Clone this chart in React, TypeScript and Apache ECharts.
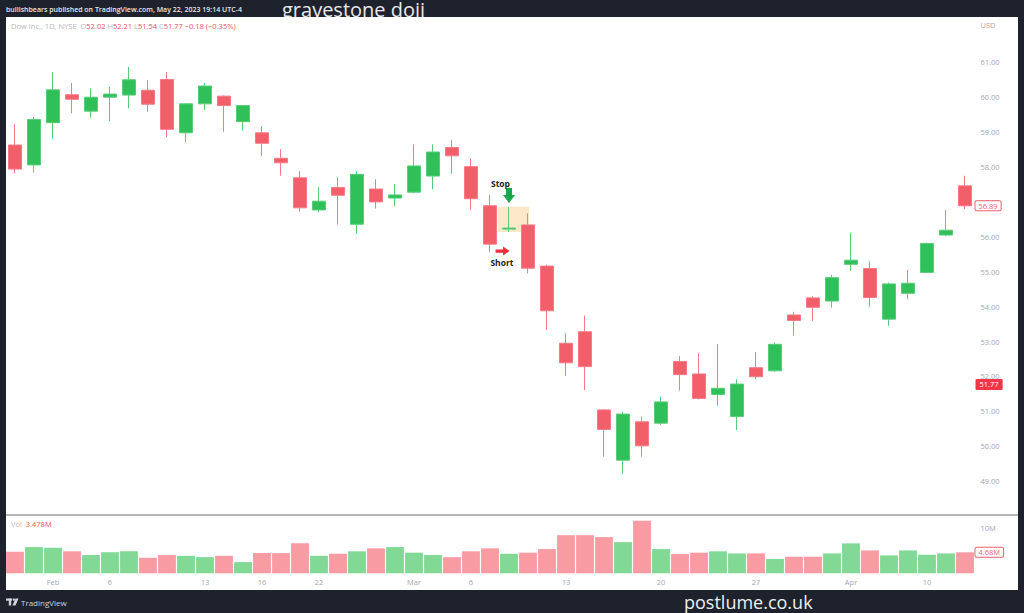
import React, { useEffect, useRef } from "react";
import * as echarts from "echarts";

const dates = [
  "2023-01-30", "2023-01-31", "2023-02-01", "2023-02-02", "2023-02-03", "2023-02-06", "2023-02-07",
  "2023-02-08", "2023-02-09", "2023-02-10", "2023-02-13", "2023-02-14", "2023-02-15", "2023-02-16",
  "2023-02-17", "2023-02-21", "2023-02-22", "2023-02-23", "2023-02-24", "2023-02-27", "2023-02-28",
  "2023-03-01", "2023-03-02", "2023-03-03", "2023-03-06", "2023-03-07", "2023-03-08", "2023-03-09",
  "2023-03-10", "2023-03-13", "2023-03-14", "2023-03-15", "2023-03-16", "2023-03-17", "2023-03-20",
  "2023-03-21", "2023-03-22", "2023-03-23", "2023-03-24", "2023-03-27", "2023-03-28", "2023-03-29",
  "2023-03-30", "2023-03-31", "2023-04-03", "2023-04-04", "2023-04-05", "2023-04-06", "2023-04-10",
  "2023-04-11", "2023-04-12",
];

const opens = [
  58.63, 58.06, 59.27, 60.07, 59.6, 60.0, 60.06, 60.2, 60.51, 58.98,
  59.81, 60.03, 59.3, 58.98, 58.25, 57.69, 56.77, 57.41, 56.36, 57.37,
  57.11, 57.28, 57.74, 58.56, 58.01, 56.89, 56.22, 56.34, 55.16, 52.95,
  53.28, 51.04, 49.6, 50.7, 50.66, 52.43, 52.07, 51.48, 50.85, 52.25,
  52.16, 53.76, 54.25, 54.16, 55.21, 55.09, 53.64, 54.38, 54.98, 56.05,
  57.46,
];
const closes = [
  57.94, 59.36, 60.21, 59.94, 60.0, 60.09, 60.5, 59.8, 59.08, 59.81,
  60.32, 59.76, 59.76, 58.68, 58.12, 56.83, 57.02, 57.19, 57.79, 57.0,
  57.2, 58.03, 58.43, 58.32, 57.09, 55.79, 56.25, 55.1, 53.88, 52.39,
  52.28, 50.48, 50.92, 50.01, 51.27, 52.05, 51.37, 51.66, 51.78, 51.99,
  52.92, 53.6, 53.98, 54.83, 55.33, 54.26, 54.65, 54.67, 55.81, 56.19,
  56.89,
];
const lows = [
  57.82, 57.84, 58.8, 59.54, 59.41, 59.31, 59.68, 59.58, 58.85, 58.71,
  59.63, 59.01, 59.04, 58.32, 57.75, 56.72, 56.7, 56.35, 56.08, 56.81,
  56.88, 57.25, 57.36, 57.8, 56.77, 55.56, 56.14, 54.95, 53.33, 52.01,
  51.61, 49.7, 49.2, 49.7, 50.61, 51.59, 51.34, 51.16, 50.46, 51.92,
  52.13, 53.17, 53.59, 53.97, 55.03, 54.0, 53.45, 54.21, 54.96, 56.02,
  56.79,
];
const highs = [
  59.22, 59.44, 60.72, 60.41, 60.25, 60.3, 60.87, 60.49, 60.72, 59.83,
  60.41, 60.05, 59.78, 59.17, 58.51, 57.88, 57.42, 57.71, 57.88, 57.65,
  57.51, 58.65, 58.65, 58.77, 58.25, 57.2, 56.86, 56.67, 55.2, 53.23,
  53.74, 51.06, 50.99, 50.85, 51.42, 52.58, 52.66, 52.93, 51.92, 52.7,
  52.97, 53.85, 54.3, 54.91, 56.12, 55.29, 54.69, 55.05, 55.83, 56.77,
  57.75,
];
// volume in millions
const volumes = [
  4.8, 5.85, 5.7, 4.9, 4.07, 4.7, 4.9, 3.47, 4.07, 3.9,
  3.6, 3.9, 2.5, 4.5, 4.5, 6.7, 3.9, 4.36, 4.9, 5.56,
  5.85, 4.6, 4.07, 3.6, 4.9, 5.56, 4.36, 4.6, 5.4, 8.5,
  8.5, 8.07, 6.96, 11.7, 5.4, 4.3, 4.6, 4.9, 4.44, 4.44,
  3.18, 3.7, 3.7, 4.44, 6.67, 5.1, 4.0, 5.1, 4.14, 4.44,
  4.68,
];

const xTickDates = [
  "2023-02-01", "2023-02-06", "2023-02-13", "2023-02-16", "2023-02-22", "2023-03-01",
  "2023-03-06", "2023-03-13", "2023-03-20", "2023-03-27", "2023-04-03", "2023-04-10",
];
const xTickTexts = ["Feb", "6", "13", "16", "22", "Mar", "6", "13", "20", "27", "Apr", "10"];

const priceMin = 48;
const priceMax = 62;
const volumeMax = 13;
const volumeTick = 10;
const lastPrice = 56.89;
const sessionPrice = 51.77;
const lastVolume = 4.68;
const dojiDate = "2023-03-08";

const UP = "#30c05a";
const DOWN = "#f35e6b";
const UP_BORDER = "#58cc79";
const DOWN_BORDER = "#f47a85";
const VOL_UP = "#82d995";
const VOL_DOWN = "#f89ba3";
const AXIS_TEXT = "#a3a6ae";
const FONT = "'Open Sans', 'Noto Sans', sans-serif";

const hiddenLine = { color: "rgba(0,0,0,0)", width: 0.01, type: "solid" };

export default function App() {
  const ref = useRef<HTMLDivElement>(null);

  useEffect(() => {
    if (!ref.current) return;
    const chart = echarts.init(ref.current, null, { renderer: "svg" });
    const dojiIndex = dates.indexOf(dojiDate);

    const candleData = dates.map((_, i) => [opens[i], closes[i], lows[i], highs[i]]);
    const volumeData = volumes.map((v, i) => ({
      value: v,
      itemStyle: { color: closes[i] >= opens[i] ? VOL_UP : VOL_DOWN },
    }));

    const tag = (text: string, fg: string, bg: string, border?: string) => ({
      show: true,
      position: "end",
      distance: 1,
      formatter: text,
      color: fg,
      backgroundColor: bg,
      borderColor: border || bg,
      borderWidth: border ? 1 : 0,
      borderRadius: 1,
      padding: border ? [1, 3, 0, 3] : [2, 4, 1, 4],
      fontSize: 7.5,
      fontFamily: FONT,
      opacity: 1,
    });

    const option: any = {
      animation: false,
      backgroundColor: "#1e222d",
      textStyle: { fontFamily: FONT },
      grid: [
        { left: 5.5, right: 49.5, top: 27.4, height: 488.6 },
        { left: 5.5, right: 49.5, top: 515, height: 58.3 },
      ],
      xAxis: [
        { type: "category", gridIndex: 0, data: dates, show: false, boundaryGap: true },
        {
          type: "category",
          gridIndex: 1,
          data: dates,
          boundaryGap: true,
          axisLine: { show: false },
          axisTick: { show: false },
          splitLine: { show: false },
          axisLabel: {
            interval: 0,
            color: AXIS_TEXT,
            fontSize: 7.5,
            margin: 5,
            formatter: (v: string) => {
              const k = xTickDates.indexOf(v);
              return k >= 0 ? xTickTexts[k] : "";
            },
          },
        },
        { type: "value", gridIndex: 0, min: -0.5, max: dates.length - 0.5, show: false },
      ],
      yAxis: [
        {
          type: "value",
          gridIndex: 0,
          position: "right",
          min: priceMin,
          max: priceMax,
          interval: 1,
          axisLine: { show: false },
          axisTick: { show: false },
          splitLine: { show: false },
          axisLabel: {
            color: AXIS_TEXT,
            fontSize: 7.5,
            margin: 6,
            showMinLabel: false,
            showMaxLabel: false,
            formatter: (v: number) => v.toFixed(2),
          },
        },
        {
          type: "value",
          gridIndex: 1,
          position: "right",
          min: 0,
          max: volumeMax,
          interval: volumeTick,
          axisLine: { show: false },
          axisTick: { show: false },
          splitLine: { show: false },
          axisLabel: {
            color: AXIS_TEXT,
            fontSize: 7.5,
            margin: 6,
            formatter: (v: number) => (v === volumeTick ? `${v}M` : ""),
          },
        },
      ],
      series: [
        {
          type: "candlestick",
          xAxisIndex: 0,
          yAxisIndex: 0,
          data: candleData,
          barWidth: 13,
          z: 3,
          itemStyle: {
            color: UP,
            color0: DOWN,
            borderColor: UP_BORDER,
            borderColor0: DOWN_BORDER,
            borderWidth: 1,
          },
          markLine: {
            silent: true,
            symbol: ["none", "none"],
            lineStyle: hiddenLine,
            emphasis: { disabled: true },
            data: [
              { yAxis: lastPrice, label: tag(lastPrice.toFixed(2), DOWN, "#ffffff", DOWN) },
              { yAxis: sessionPrice, label: tag(sessionPrice.toFixed(2), "#ffffff", "#f23645") },
            ],
          },
        },
        {
          type: "bar",
          xAxisIndex: 1,
          yAxisIndex: 1,
          data: volumeData,
          barCategoryGap: "6%",
          markLine: {
            silent: true,
            symbol: ["none", "none"],
            lineStyle: hiddenLine,
            emphasis: { disabled: true },
            data: [
              { yAxis: lastVolume, label: tag(`${lastVolume.toFixed(2)}M`, DOWN, "#ffffff", DOWN) },
            ],
          },
        },
        {
          type: "scatter",
          xAxisIndex: 2,
          yAxisIndex: 0,
          data: [],
          silent: true,
          markArea: {
            silent: true,
            itemStyle: { color: "#fde8c9" },
            data: [
              [
                { coord: [dojiIndex - 0.58, highs[dojiIndex]] },
                { coord: [dojiIndex + 1.05, lows[dojiIndex]] },
              ],
            ],
          },
          markPoint: {
            silent: true,
            data: [
              {
                coord: [dojiIndex - 0.45, 57.54],
                symbol: "rect",
                symbolSize: 1,
                itemStyle: { color: "rgba(0,0,0,0)" },
                label: {
                  show: true,
                  position: "inside",
                  formatter: "Stop",
                  color: "#1c1c1c",
                  fontWeight: "bold",
                  fontSize: 8.5,
                },
              },
              {
                coord: [dojiIndex, 57.18],
                symbol: "path://M3,0L9,0L9,7L12,7L6,15L0,7L3,7Z",
                symbolSize: [12, 15],
                itemStyle: { color: "#17a84a" },
                label: { show: false },
              },
              {
                coord: [dojiIndex - 0.34, 55.59],
                symbol: "path://M0,2.5L7,2.5L7,0L13,4L7,8L7,5.5L0,5.5Z",
                symbolSize: [14, 9],
                itemStyle: { color: "#ee2d3d" },
                label: { show: false },
              },
              {
                coord: [dojiIndex - 0.37, 55.26],
                symbol: "rect",
                symbolSize: 1,
                itemStyle: { color: "rgba(0,0,0,0)" },
                label: {
                  show: true,
                  position: "inside",
                  formatter: "Short",
                  color: "#1c1c1c",
                  fontWeight: "bold",
                  fontSize: 8.5,
                },
              },
            ],
          },
        },
      ],
      graphic: [
        {
          type: "text",
          z: -20,
          style: {
            text: "gravestone doji",
            x: 282,
            y: 9,
            fill: "#e9e9e9",
            fontSize: 20,
            fontFamily: FONT,
            textVerticalAlign: "middle",
          },
        },
        {
          type: "rect",
          z: -10,
          shape: { x: 6, y: 17, width: 1012, height: 573 },
          style: { fill: "#ffffff" },
        },
        {
          type: "text",
          style: {
            text: "bullishbears published on TradingView.com, May 22, 2023 19:14 UTC-4",
            x: 6,
            y: 9.5,
            fill: "#e8e8e8",
            fontSize: 7,
            fontWeight: 600,
            fontFamily: FONT,
            textVerticalAlign: "middle",
          },
        },
        {
          type: "text",
          style: {
            text: "{g|Dow Inc., 1D, NYSE  O}{r|52.02}{g| H}{r|52.21}{g| L}{r|51.54}{g| C}{r|51.77}{r| −0.18 (−0.35%)}",
            x: 11,
            y: 25.5,
            fontSize: 7.5,
            fontFamily: FONT,
            textVerticalAlign: "middle",
            rich: {
              g: { fill: "#b4b7bf", fontSize: 7.5, fontFamily: FONT },
              r: { fill: "#f0505e", fontSize: 7.5, fontFamily: FONT },
            },
          },
        },
        {
          type: "text",
          style: {
            text: "USD",
            x: 980.5,
            y: 25,
            fill: AXIS_TEXT,
            fontSize: 7.5,
            fontFamily: FONT,
            textVerticalAlign: "middle",
          },
        },
        {
          type: "line",
          shape: { x1: 6, y1: 515, x2: 1018, y2: 515 },
          style: { stroke: "#9c9c9c", lineWidth: 1.5 },
        },
        {
          type: "text",
          style: {
            text: "{g|Vol  }{r|3.478M}",
            x: 11,
            y: 524,
            fontSize: 7.5,
            fontFamily: FONT,
            textVerticalAlign: "middle",
            rich: {
              g: { fill: "#b4b7bf", fontSize: 7.5, fontFamily: FONT },
              r: { fill: "#f0505e", fontSize: 7.5, fontFamily: FONT },
            },
          },
        },
        {
          type: "group",
          children: [
            { type: "rect", shape: { x: 6, y: 598.5, width: 6, height: 2.2 }, style: { fill: "#d1d4dc" } },
            { type: "rect", shape: { x: 8.8, y: 598.5, width: 2.4, height: 7 }, style: { fill: "#d1d4dc" } },
            { type: "circle", shape: { cx: 13.8, cy: 599.6, r: 1.2 }, style: { fill: "#d1d4dc" } },
            {
              type: "polygon",
              shape: { points: [[15.5, 598.5], [18.5, 598.5], [15.5, 605.5], [12.5, 605.5]] },
              style: { fill: "#d1d4dc" },
            },
          ],
        },
        {
          type: "text",
          style: {
            text: "TradingView",
            x: 21,
            y: 602.5,
            fill: "#d1d4dc",
            fontSize: 8,
            fontFamily: FONT,
            textVerticalAlign: "middle",
          },
        },
        {
          type: "text",
          style: {
            text: "postlume.co.uk",
            x: 684,
            y: 602,
            fill: "#eeeeee",
            fontSize: 18,
            fontFamily: FONT,
            textVerticalAlign: "middle",
          },
        },
      ],
    };

    chart.setOption(option);
    return () => chart.dispose();
  }, []);

  return (
    <div
      ref={ref}
      style={{ position: "absolute", left: 0, top: 0, width: 1024, height: 613 }}
    />
  );
}
